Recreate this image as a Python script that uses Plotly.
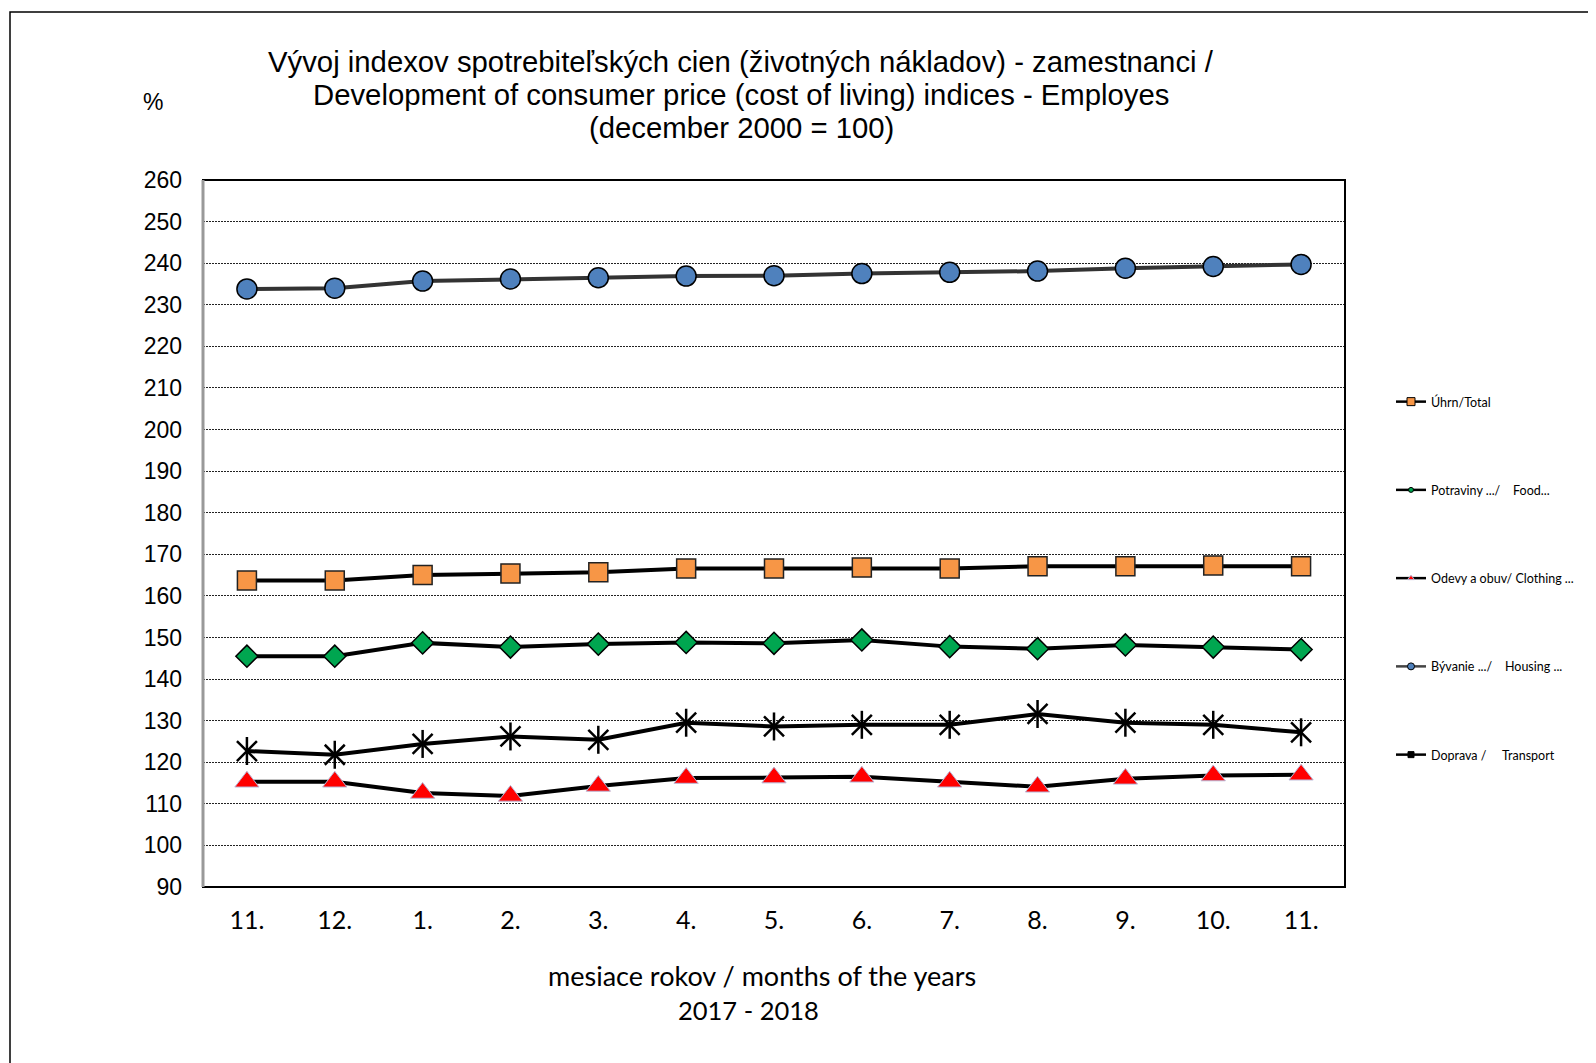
import plotly.graph_objects as go

months = ["11.", "12.", "1.", "2.", "3.", "4.", "5.", "6.", "7.", "8.", "9.", "10.", "11."]
total = [163.7, 163.7, 165.0, 165.4, 165.7, 166.6, 166.6, 166.8, 166.6, 167.1, 167.1, 167.3, 167.1]
food = [145.5, 145.5, 148.7, 147.7, 148.4, 148.8, 148.6, 149.4, 147.8, 147.3, 148.2, 147.7, 147.1]
clothing = [115.3, 115.3, 112.6, 111.9, 114.3, 116.2, 116.3, 116.5, 115.3, 114.1, 116.0, 116.8, 117.0]
housing = [233.8, 234.0, 235.7, 236.2, 236.5, 236.9, 237.0, 237.5, 237.8, 238.1, 238.8, 239.2, 239.7]
transport = [122.7, 121.8, 124.4, 126.2, 125.4, 129.5, 128.6, 129.0, 129.0, 131.6, 129.5, 129.0, 127.2]
y_ticks = list(range(90, 261, 10))
legend_names = ["Úhrn/Total", "Potraviny .../\u00a0\u00a0\u00a0\u00a0Food...", "Odevy a obuv/ Clothing ...",
                "Bývanie .../\u00a0\u00a0\u00a0\u00a0Housing ...", "Doprava /\u00a0\u00a0\u00a0\u00a0\u00a0Transport"]

x = list(range(len(months)))

fig = go.Figure()

# data traces
fig.add_trace(go.Scatter(x=x, y=housing, mode="lines+markers", showlegend=False,
                         line=dict(color="#333333", width=4),
                         marker=dict(symbol="circle", size=20, color="#4F81BD", line=dict(color="black", width=1.5))))
fig.add_trace(go.Scatter(x=x, y=total, mode="lines+markers", showlegend=False,
                         line=dict(color="black", width=4),
                         marker=dict(symbol="square", size=19, color="#F79646", line=dict(color="#222", width=1.5))))
fig.add_trace(go.Scatter(x=x, y=food, mode="lines+markers", showlegend=False,
                         line=dict(color="black", width=4),
                         marker=dict(symbol="diamond", size=17, color="#00A650", line=dict(color="black", width=1.5))))
fig.add_trace(go.Scatter(x=x, y=transport, mode="lines+markers", showlegend=False,
                         line=dict(color="black", width=4),
                         marker=dict(symbol="x-thin-open", size=20, color="black", line=dict(color="black", width=2.5))))
fig.add_trace(go.Scatter(x=x, y=transport, mode="markers", showlegend=False,
                         marker=dict(symbol="line-ns-open", size=20, color="black", line=dict(color="black", width=2.5))))
fig.add_trace(go.Scatter(x=x, y=clothing, mode="lines+markers", showlegend=False,
                         line=dict(color="black", width=4),
                         marker=dict(symbol="triangle-up", size=21, color="#FF0000", line=dict(color="#B8B8D8", width=1))))

# legend-only traces
leg_specs = [
    (legend_names[0], dict(symbol="square", size=8, color="#F79646", line=dict(color="black", width=1))),
    (legend_names[1], dict(symbol="circle", size=5, color="#00A650", line=dict(color="black", width=1))),
    (legend_names[2], dict(symbol="triangle-up", size=6, color="#FF0000", line=dict(color="#B8B8D8", width=1))),
    (legend_names[3], dict(symbol="circle", size=7, color="#4F81BD", line=dict(color="black", width=1))),
    (legend_names[4], dict(symbol="square", size=6, color="black", line=dict(color="black", width=1))),
]
for i, (nm, mk) in enumerate(leg_specs):
    lc = "#444444" if i == 3 else "black"
    fig.add_trace(go.Scatter(x=[None], y=[None], mode="lines+markers", name=nm, legendgroup=f"g{i}",
                             line=dict(color=lc, width=2.5), marker=mk))

OFF = 8  # page body margin
W, H = 1596 - OFF, 1063 - OFF
# plot area in screen pixels
SL, SR, ST, SB = 203, 1345, 180, 887
L, R, T, B = SL - OFF, SR - OFF, ST - OFF, SB - OFF
pw, ph = R - L, B - T


def px(xs):
    return (xs - OFF - L) / pw


def py(ys):
    return (B - (ys - OFF)) / ph


fig.update_layout(
    width=W, height=H,
    margin=dict(l=L, r=W - R, t=T, b=H - B, pad=0),
    paper_bgcolor="white", plot_bgcolor="white",
    font=dict(family="Liberation Sans, Arial", color="black"),
    xaxis=dict(range=[-0.5, 12.5], tickmode="array", tickvals=x, ticktext=months,
               showgrid=False, zeroline=False, showline=False, ticks="",
               tickfont=dict(family="Lato, Carlito, sans-serif", size=25), ticklabelstandoff=16),
    yaxis=dict(range=[90, 260], tickmode="array", tickvals=y_ticks, showgrid=True,
               gridcolor="#222222", griddash="1.5px,1.5px", gridwidth=1.2, zeroline=False, showline=False, ticks="",
               tickfont=dict(family="Liberation Sans, Arial", size=23), ticklabelstandoff=20),
    legend=dict(x=px(1391), y=py(387), xanchor="left", yanchor="top", tracegroupgap=69,
                font=dict(family="Lato, Carlito, sans-serif", size=12.5), bgcolor="rgba(0,0,0,0)",
                itemwidth=30),
    shapes=[
        dict(type="rect", xref="paper", yref="paper", x0=px(10), x1=px(1640), y0=py(1100), y1=py(12),
             line=dict(color="black", width=1.5), fillcolor="rgba(0,0,0,0)", layer="below"),
        dict(type="rect", xref="paper", yref="paper", x0=0, x1=1, y0=0, y1=1,
             line=dict(color="black", width=2), fillcolor="rgba(0,0,0,0)", layer="above"),
        dict(type="line", xref="paper", yref="paper", x0=0, x1=0, y0=0, y1=1,
             line=dict(color="#999999", width=3), layer="above"),
    ],
    annotations=[
        dict(text="Vývoj indexov spotrebiteľských cien (životných nákladov) - zamestnanci /", x=px(741), y=py(61),
             xref="paper", yref="paper", showarrow=False, xanchor="center", yanchor="middle",
             font=dict(size=29.3, family="Liberation Sans, Arial")),
        dict(text="Development of consumer price (cost of living) indices - Employes", x=px(741), y=py(95),
             xref="paper", yref="paper", showarrow=False, xanchor="center", yanchor="middle",
             font=dict(size=29.3, family="Liberation Sans, Arial")),
        dict(text="(december 2000 = 100)", x=px(741), y=py(128),
             xref="paper", yref="paper", showarrow=False, xanchor="center", yanchor="middle",
             font=dict(size=29.3, family="Liberation Sans, Arial")),
        dict(text="%", x=px(153), y=py(102), xref="paper", yref="paper", showarrow=False,
             xanchor="center", yanchor="middle", font=dict(size=23, family="Liberation Sans, Arial")),
        dict(text="mesiace rokov / months of the years", x=px(762), y=py(975), xref="paper", yref="paper",
             showarrow=False, xanchor="center", yanchor="middle", font=dict(size=27, family="Lato, Carlito, sans-serif")),
        dict(text="2017 - 2018", x=px(748), y=py(1010), xref="paper", yref="paper",
             showarrow=False, xanchor="center", yanchor="middle", font=dict(size=25.5, family="Lato, Carlito, sans-serif")),
    ],
)

fig.write_html("out.html")
